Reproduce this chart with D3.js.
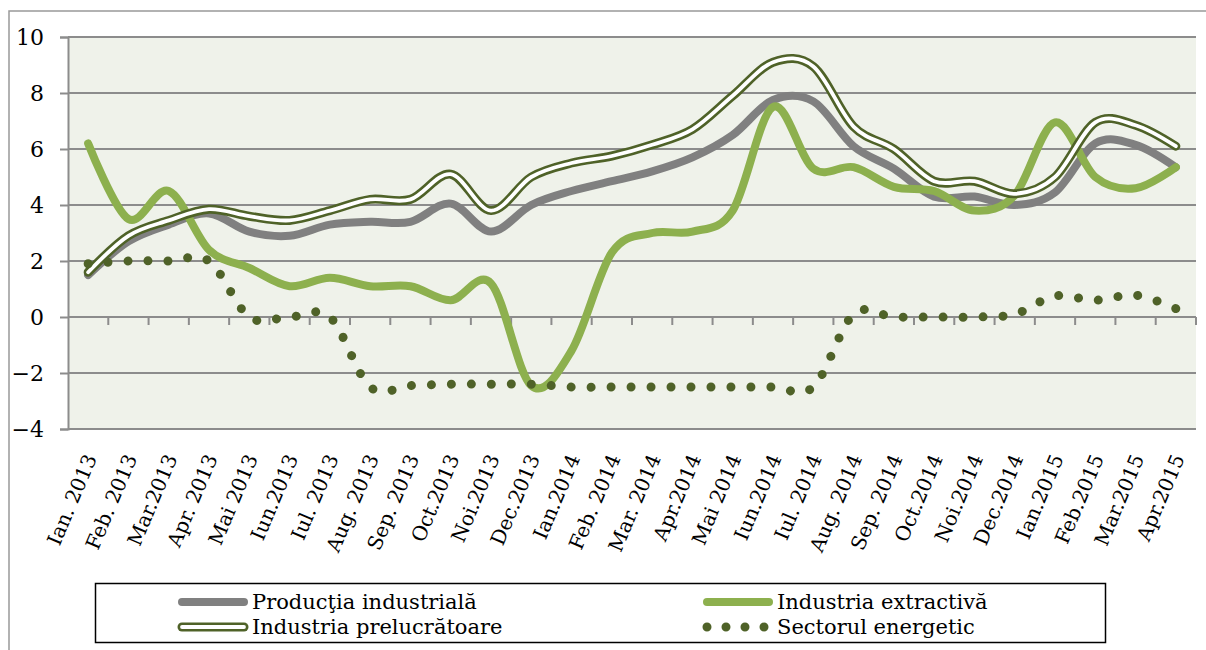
<!DOCTYPE html>
<html>
<head>
<meta charset="utf-8">
<script src="https://cdn.jsdelivr.net/npm/d3@7"></script>
<style>
  html, body { margin: 0; padding: 0; background: #fff; }
  svg { display: block; }
</style>
</head>
<body>
<script>
const categories = [
  'Ian. 2013', 'Feb. 2013', 'Mar.2013', 'Apr. 2013', 'Mai 2013', 'Iun.2013', 'Iul. 2013',
  'Aug. 2013', 'Sep. 2013', 'Oct.2013', 'Noi.2013', 'Dec.2013', 'Ian.2014', 'Feb. 2014',
  'Mar. 2014', 'Apr.2014', 'Mai 2014', 'Iun.2014', 'Iul. 2014', 'Aug. 2014', 'Sep. 2014',
  'Oct.2014', 'Noi.2014', 'Dec.2014', 'Ian.2015', 'Feb.2015', 'Mar.2015', 'Apr.2015'
];

const productie = [1.5, 2.7, 3.3, 3.7, 3.05, 2.9, 3.3, 3.4, 3.4, 4.05, 3.05, 4.0, 4.5, 4.85,
  5.2, 5.7, 6.5, 7.75, 7.7, 6.1, 5.3, 4.3, 4.3, 4.0, 4.45, 6.2, 6.15, 5.35];
const extractiva = [6.2, 3.5, 4.5, 2.4, 1.75, 1.1, 1.4, 1.1, 1.1, 0.6, 1.2, -2.45, -1.2, 2.3,
  3.0, 3.05, 3.8, 7.5, 5.3, 5.35, 4.65, 4.5, 3.8, 4.35, 6.95, 5.0, 4.6, 5.35];
const prelucratoare = [1.6, 2.9, 3.45, 3.85, 3.6, 3.45, 3.8, 4.2, 4.2, 5.1, 3.8, 5.0, 5.5, 5.75,
  6.15, 6.7, 7.9, 9.1, 8.95, 6.8, 6.0, 4.85, 4.85, 4.4, 5.0, 6.95, 6.85, 6.1];
const energetic = [1.9, 2.0, 2.0, 2.0, 0.0, 0.0, 0.0, -2.5, -2.45, -2.4, -2.4, -2.4, -2.5, -2.5,
  -2.5, -2.5, -2.5, -2.5, -2.5, 0.1, 0.0, 0.0, 0.0, 0.1, 0.75, 0.6, 0.78, 0.3];

const yTicks = [-4, -2, 0, 2, 4, 6, 8, 10];

const seriesNames = ['Producţia industrială', 'Industria extractivă', 'Industria prelucrătoare', 'Sectorul energetic'];

const width = 1206;
const height = 650;
const font = "'DejaVu Serif', serif";

const gray = '#808080';
const green = '#8db04e';
const dark = '#4f6228';
const gridColor = '#8c8c8c';

const svg = d3.select('body')
  .append('svg')
  .attr('width', width)
  .attr('height', height)
  .style('font-family', font);

// outer chart frame (only left and top edges are visible in the picture)
svg.append('path')
  .attr('d', `M9,${height} V11 H${width}`)
  .attr('fill', 'none')
  .attr('stroke', '#999')
  .attr('stroke-width', 1.5);

const x = d3.scalePoint()
  .domain(categories)
  .range([68, 1196])
  .padding(0.5);

const y = d3.scaleLinear()
  .domain([-4, 10])
  .range([429, 37]);

const step = x.step();

svg.append('rect')
  .attr('x', 68)
  .attr('y', y(10))
  .attr('width', 1196 - 68)
  .attr('height', y(-4) - y(10))
  .attr('fill', '#eff2ea');

// horizontal gridlines + y axis
const yAxis = svg.append('g')
  .attr('transform', 'translate(68,0)')
  .call(d3.axisLeft(y).tickValues(yTicks).tickSize(8).tickPadding(16).tickFormat(d3.format('d')));

yAxis.select('.domain')
  .attr('stroke', gridColor)
  .attr('stroke-width', 2);

yAxis.selectAll('.tick line')
  .attr('stroke', gridColor)
  .attr('stroke-width', 2);

yAxis.selectAll('.tick text')
  .attr('fill', '#000')
  .style('font-size', '22px')
  .style('font-family', font);

svg.append('g')
  .selectAll('line')
  .data(yTicks)
  .join('line')
    .attr('x1', 68)
    .attr('x2', 1196)
    .attr('y1', d => y(d))
    .attr('y2', d => y(d))
    .attr('stroke', gridColor)
    .attr('stroke-width', 2);

// category tick marks on the zero line
svg.append('g')
  .selectAll('line')
  .data(d3.range(1, categories.length + 1))
  .join('line')
    .attr('x1', i => 68 + i * step)
    .attr('x2', i => 68 + i * step)
    .attr('y1', y(0))
    .attr('y2', y(0) + 8)
    .attr('stroke', gridColor)
    .attr('stroke-width', 2);

// category labels at the bottom
svg.append('g')
  .selectAll('text')
  .data(categories)
  .join('text')
    .attr('transform', d => `translate(${x(d) + 9},458) rotate(-67)`)
    .attr('text-anchor', 'end')
    .style('font-size', '20px')
    .text(d => d);

const line = d3.line()
  .x((d, i) => x(categories[i]))
  .y(d => y(d))
  .curve(d3.curveCardinal.tension(0));

const plot = svg.append('g')
  .attr('fill', 'none')
  .attr('stroke-linecap', 'round')
  .attr('stroke-linejoin', 'round');

plot.append('path')
  .attr('d', line(productie))
  .attr('stroke', gray)
  .attr('stroke-width', 8);

plot.append('path')
  .attr('d', line(extractiva))
  .attr('stroke', green)
  .attr('stroke-width', 8);

plot.append('path')
  .attr('d', line(prelucratoare))
  .attr('stroke', dark)
  .attr('stroke-width', 9);

plot.append('path')
  .attr('d', line(prelucratoare))
  .attr('stroke', '#fff')
  .attr('stroke-width', 3.8);

const dotted = plot.append('path')
  .attr('d', line(energetic))
  .attr('stroke', dark)
  .attr('stroke-width', 9);

// spread the round dots so one lands near both ends of the line
const dotLength = dotted.node().getTotalLength();
const dotGap = (dotLength - 1) / Math.round(dotLength / 20);
dotted.attr('stroke-dasharray', `0.01 ${dotGap - 0.01}`);

// legend, laid out row-wise: row1 = series 0 and 1, row2 = series 2 and 3
const legend = svg.append('g');

legend.append('rect')
  .attr('x', 95.5)
  .attr('y', 583.5)
  .attr('width', 1010)
  .attr('height', 59)
  .attr('fill', '#fff')
  .attr('stroke', '#000')
  .attr('stroke-width', 1.5);

const legendItems = seriesNames.map((name, i) => ({
  name,
  x: i % 2 === 0 ? 178 : 703,
  y: i < 2 ? 602 : 627,
  kind: ['gray', 'green', 'double', 'dots'][i]
}));

const item = legend.selectAll('g.item')
  .data(legendItems)
  .join('g')
    .attr('class', 'item')
    .attr('transform', d => `translate(${d.x},${d.y})`);

item.each(function(d) {
  const g = d3.select(this);
  if (d.kind === 'gray' || d.kind === 'green') {
    g.append('line')
      .attr('x1', 4).attr('x2', 66)
      .attr('stroke', d.kind === 'gray' ? gray : green)
      .attr('stroke-width', 8)
      .attr('stroke-linecap', 'round');
  } else if (d.kind === 'double') {
    g.append('line')
      .attr('x1', 4).attr('x2', 66)
      .attr('stroke', dark)
      .attr('stroke-width', 9)
      .attr('stroke-linecap', 'round');
    g.append('line')
      .attr('x1', 4).attr('x2', 66)
      .attr('stroke', '#fff')
      .attr('stroke-width', 3.8)
      .attr('stroke-linecap', 'round');
  } else {
    g.append('line')
      .attr('x1', 4).attr('x2', 66)
      .attr('stroke', dark)
      .attr('stroke-width', 9)
      .attr('stroke-linecap', 'round')
      .attr('stroke-dasharray', '0 19');
  }
  g.append('text')
    .attr('x', 74)
    .attr('y', 7)
    .style('font-size', '21px')
    .text(d.name);
});
</script>
</body>
</html>
